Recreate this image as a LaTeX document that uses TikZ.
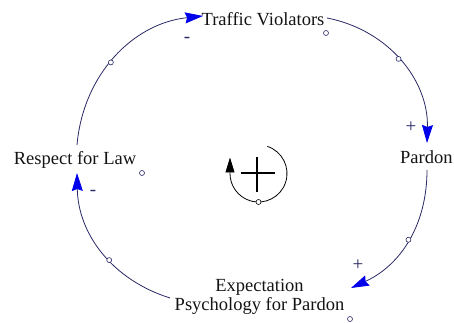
\documentclass[tikz,border=0pt]{standalone}
\usepackage{fontspec}
\setmainfont{Liberation Serif}
\usetikzlibrary{arrows.meta}
\definecolor{linkc}{RGB}{40,40,100}
\definecolor{headc}{RGB}{0,0,235}
\definecolor{txt}{RGB}{20,20,20}
\begin{document}
\begin{tikzpicture}[x=1pt,y=1pt,
  var/.style={font=\fontsize{18.5}{19}\selectfont, text=txt, inner sep=0pt},
  link/.style={draw=linkc, line width=0.8pt, -{Stealth[length=18pt,width=11pt,inset=2pt,color=headc]}},
  handle/.style={circle, draw=linkc, fill=white, line width=0.6pt, minimum size=5pt, inner sep=0pt},
  pol/.style={font=\fontsize{19}{19}\selectfont, text=linkc, inner sep=0pt}]
\useasboundingbox (0,0) rectangle (454,323);
% variables
\node[var] (tv) at (263,304) {Traffic Violators};
\node[var, anchor=west] (pa) at (400,166) {Pardon};
\node[var, align=center] (ep) at (259.5,26.5) {Expectation\\Psychology for Pardon};
\node[var] (rl) at (75,163) {Respect for Law};
% connector ends
\coordinate (rlTop) at (77,178);
\coordinate (tvW) at (203,307);
\coordinate (tvE) at (327,305);
\coordinate (paN) at (427,180);
\coordinate (paS) at (427,153);
\coordinate (epE) at (351,35);
\coordinate (epW) at (170,25);
\coordinate (rlBot) at (77,150);
% links
\draw[link] (rlTop) to[out=85,in=186] node[handle,pos=0.46] (h1) {} (tvW);
\draw[link] (tvE) to[out=-11,in=88.5] node[handle,pos=0.48] (h2) {} (paN);
\draw[link] (paS) to[out=-90,in=24.6] node[handle,pos=0.49] (h3) {} (epE);
\draw[link] (epW) to[out=162.5,in=-89] node[handle,pos=0.43] (h4) {} (rlBot);
% polarities
\node[pol] (s1) at (187,283) {-};
\node[pol] (s2) at (411,196) {+};
\node[pol] (s3) at (358,58) {+};
\node[pol] (s4) at (93,130) {-};
% variable markers
\node[handle] (m1) at (326,290) {};
\node[handle] (m2) at (142,150) {};
\node[handle] (m3) at (350,4) {};
% loop symbol
\coordinate (lc) at (258.5,149.5);
\draw[black, line width=0.8pt, -{Triangle[length=15pt,width=9pt]}]
  ([shift={(72:28.5)}]lc) arc[start angle=72,end angle=-180,radius=28.5] -- ++(0,16);
\node[handle, draw=black] (lh) at (258.5,121) {};
\draw[black, line width=2pt] (240.7,150) -- (275,150);
\draw[black, line width=2pt] (257.3,166) -- (257.3,131);
\end{tikzpicture}
\end{document}
